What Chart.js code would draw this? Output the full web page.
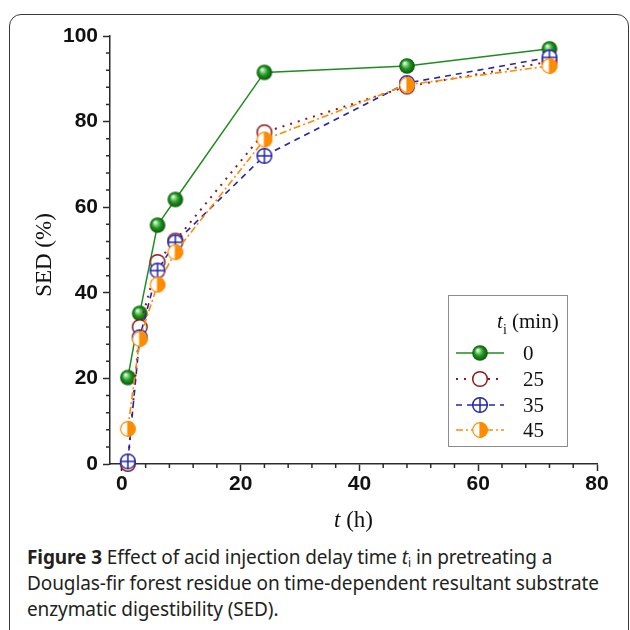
<!DOCTYPE html>
<html>
<head>
<meta charset="utf-8">
<script src="https://cdn.jsdelivr.net/npm/chart.js@4.4.1/dist/chart.umd.min.js"></script>
<style>
  html, body { margin: 0; padding: 0; background: #fff; }
  body { width: 630px; height: 630px; position: relative; overflow: hidden; }
  .frame { position: absolute; left: 9px; top: 14px; width: 620px; height: 660px; border: 1.5px solid #3a3a3a; border-radius: 12px; box-sizing: border-box; }
  .wrap { position: absolute; left: 0; top: 0; width: 630px; height: 535px; }
  .caption { position: absolute; left: 27px; top: 544px; font-family: 'Noto Sans', sans-serif; font-size: 19px; line-height: 26px; color: #231f20; white-space: nowrap; letter-spacing: -0.1px; }
  .caption b { font-weight: bold; }
  .caption sub { font-size: 12px; vertical-align: -3px; line-height: 0; }
</style>
</head>
<body>
<div class="frame"></div>
<div class="wrap"><canvas id="myChart" width="630" height="535"></canvas></div>
<div class="caption">
  <b>Figure 3</b> Effect of acid injection delay time <i>t</i><sub>i</sub> in pretreating a<br>
  Douglas-fir forest residue on time-dependent resultant substrate<br>
  enzymatic digestibility (SED).
</div>
<script>
// data
const times = [1, 3, 6, 9, 24, 48, 72];
const sed0 = [20.2, 35.2, 55.8, 61.8, 91.5, 93.0, 97.0];
const sed25 = [0.0, 32.0, 47.2, 52.2, 77.5, 88.2, 94.0];
const sed35 = [0.6, 29.6, 45.2, 51.8, 72.0, 89.0, 95.0];
const sed45 = [8.2, 29.2, 41.9, 49.5, 75.8, 88.6, 93.0];
const delayTimes = ['0', '25', '35', '45'];
const xTicks = [0, 20, 40, 60, 80];
const yTicks = [0, 20, 40, 60, 80, 100];

const green = '#1f8c1f';
const maroon = '#8b1a1a';
const blue = '#2424b0';
const orange = '#ff8c00';

function makeMarker(kind) {
  const size = 20, r = 7.3;
  const c = document.createElement('canvas');
  c.width = size; c.height = size;
  const g = c.getContext('2d');
  const cx = size / 2, cy = size / 2;
  if (kind === 'ball') {
    const grad = g.createRadialGradient(cx - 2.5, cy - 3, 0.3, cx, cy, r + 0.5);
    grad.addColorStop(0, '#ffffff');
    grad.addColorStop(0.22, '#8fd88f');
    grad.addColorStop(0.55, '#1f961f');
    grad.addColorStop(1, '#0a560a');
    g.fillStyle = grad;
    g.beginPath(); g.arc(cx, cy, r + 0.5, 0, Math.PI * 2); g.fill();
  } else if (kind === 'open') {
    g.fillStyle = '#fff';
    g.strokeStyle = maroon; g.lineWidth = 1.5;
    g.beginPath(); g.arc(cx, cy, r, 0, Math.PI * 2); g.fill(); g.stroke();
  } else if (kind === 'cross') {
    g.fillStyle = '#fff';
    g.strokeStyle = blue; g.lineWidth = 1.5;
    g.beginPath(); g.arc(cx, cy, r, 0, Math.PI * 2); g.fill(); g.stroke();
    g.beginPath();
    g.moveTo(cx - r, cy); g.lineTo(cx + r, cy);
    g.moveTo(cx, cy - r); g.lineTo(cx, cy + r);
    g.stroke();
  } else {
    g.fillStyle = '#fff';
    g.beginPath(); g.arc(cx, cy, r, 0, Math.PI * 2); g.fill();
    g.fillStyle = orange;
    g.beginPath(); g.moveTo(cx, cy); g.arc(cx, cy, r + 0.6, -Math.PI / 2, Math.PI / 2); g.closePath(); g.fill();
    g.strokeStyle = orange; g.lineWidth = 1.2;
    g.beginPath(); g.arc(cx, cy, r, 0, Math.PI * 2); g.stroke();
    g.beginPath(); g.moveTo(cx, cy - r); g.lineTo(cx, cy + r); g.stroke();
  }
  return c;
}

const markers = [makeMarker('ball'), makeMarker('open'), makeMarker('cross'), makeMarker('half')];

function toPoints(vals) {
  return times.map((t, i) => ({ x: t, y: vals[i] }));
}

const datasets = [
  { label: delayTimes[0], data: toPoints(sed0), borderColor: green, borderWidth: 1.5, borderDash: [], pointStyle: markers[0], order: 4 },
  { label: delayTimes[1], data: toPoints(sed25), borderColor: maroon, borderWidth: 2, borderDash: [2, 6], pointStyle: markers[1], order: 3 },
  { label: delayTimes[2], data: toPoints(sed35), borderColor: blue, borderWidth: 1.6, borderDash: [6, 5], pointStyle: markers[2], order: 2 },
  { label: delayTimes[3], data: toPoints(sed45), borderColor: orange, borderWidth: 1.6, borderDash: [7, 3, 2, 3], pointStyle: markers[3], order: 1 }
].map(d => Object.assign(d, { fill: false, tension: 0, clip: false, pointRadius: 8, pointHoverRadius: 8 }));

const axisColor = '#2b2b2b';
const tickFont = { family: 'Liberation Sans', weight: 'bold', size: 21 };

// minor ticks, axis titles and the boxed legend
const extras = {
  id: 'extras',
  afterDraw(chart) {
    const ctx = chart.ctx;
    const xs = chart.scales.x, ys = chart.scales.y;
    ctx.save();
    ctx.strokeStyle = axisColor;
    ctx.lineWidth = 1.5;
    ctx.beginPath();
    for (let v = 0; v <= 80; v += 4) {
      if (v % 20) {
        const px = xs.getPixelForValue(v);
        ctx.moveTo(px, ys.bottom); ctx.lineTo(px, ys.bottom + 4);
      }
    }
    for (let v = 0; v <= 100; v += 4) {
      if (v % 20) {
        const py = ys.getPixelForValue(v);
        ctx.moveTo(xs.left, py); ctx.lineTo(xs.left - 4, py);
      }
    }
    ctx.stroke();

    // y title
    ctx.fillStyle = '#111';
    ctx.font = '23px "Liberation Serif"';
    ctx.textAlign = 'center';
    ctx.textBaseline = 'middle';
    ctx.save();
    ctx.translate(45, (ys.top + ys.bottom) / 2 + 5);
    ctx.rotate(-Math.PI / 2);
    ctx.fillText('SED (%)', 0, 0);
    ctx.restore();

    // x title
    const cx = (xs.left + xs.right) / 2;
    ctx.textAlign = 'left';
    ctx.font = 'italic 23px "Liberation Serif"';
    const tW = ctx.measureText('t').width;
    ctx.font = '23px "Liberation Serif"';
    const restW = ctx.measureText(' (h)').width;
    let x0 = cx - (tW + restW) / 2;
    ctx.font = 'italic 23px "Liberation Serif"';
    ctx.fillText('t', x0, 521);
    ctx.font = '23px "Liberation Serif"';
    ctx.fillText(' (h)', x0 + tW, 521);

    // legend box
    const bx = 448, by = 295, bw = 119, bh = 151;
    ctx.strokeStyle = '#8c8c8c';
    ctx.lineWidth = 1;
    ctx.strokeRect(bx + 0.5, by + 0.5, bw, bh);

    ctx.fillStyle = '#111';
    ctx.font = 'italic 21px "Liberation Serif"';
    ctx.fillText('t', 497, 322);
    ctx.font = '14px "Liberation Serif"';
    ctx.fillText('i', 503, 330);
    ctx.font = '21px "Liberation Serif"';
    ctx.fillText('(min)', 512, 322);

    const rowY = [353, 379, 405, 430];
    chart.data.datasets.forEach((d, i) => {
      const y = rowY[i];
      ctx.save();
      ctx.strokeStyle = d.borderColor;
      ctx.lineWidth = d.borderWidth;
      ctx.setLineDash(d.borderDash);
      ctx.beginPath();
      ctx.moveTo(456, y); ctx.lineTo(504, y);
      ctx.stroke();
      ctx.restore();
      ctx.drawImage(d.pointStyle, 480 - 10, y - 10);
      ctx.fillStyle = '#111';
      ctx.font = '21px "Liberation Serif"';
      ctx.textAlign = 'left';
      ctx.fillText(d.label, 523, y + 1);
    });
    ctx.restore();
  }
};

const ctx = document.getElementById('myChart').getContext('2d');
const myChart = new Chart(ctx, {
  type: 'line',
  data: { datasets: datasets },
  options: {
    responsive: false,
    animation: false,
    events: [],
    layout: { padding: { left: 50, top: 36, right: 33, bottom: 27 } },
    plugins: { legend: { display: false }, tooltip: { enabled: false } },
    scales: {
      x: {
        type: 'linear', min: -2, max: 80,
        afterBuildTicks: s => { s.ticks = xTicks.map(v => ({ value: v })); },
        afterFit: s => { s.height = 44; },
        grid: { drawOnChartArea: false, drawTicks: true, tickLength: 7, tickWidth: 1.5, tickColor: axisColor },
        border: { color: axisColor, width: 1.5 },
        ticks: { font: tickFont, color: '#111', padding: 1, maxRotation: 0 }
      },
      y: {
        type: 'linear', min: 0, max: 100,
        afterBuildTicks: s => { s.ticks = yTicks.map(v => ({ value: v })); },
        afterFit: s => { s.width = 60; },
        grid: { drawOnChartArea: false, drawTicks: true, tickLength: 7, tickWidth: 1.5, tickColor: axisColor },
        border: { color: axisColor, width: 1.5 },
        ticks: { font: tickFont, color: '#111', padding: 5 }
      }
    }
  },
  plugins: [extras]
});
</script>
</body>
</html>
